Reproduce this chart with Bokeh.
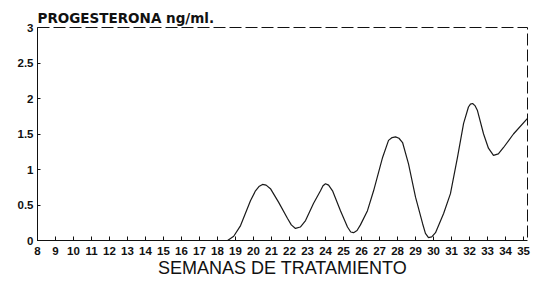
from bokeh.plotting import figure
from bokeh.models import Range1d, FixedTicker
from bokeh.embed import file_html
from bokeh.resources import INLINE

# Data
weeks = [8, 9, 10, 11, 12, 13, 14, 15, 16, 17, 18,
         18.56, 18.9, 19.28, 19.83, 20.11, 20.3, 20.5, 20.7, 20.94, 21.39,
         21.89, 22.1, 22.33, 22.6, 22.89, 23.33, 23.72, 23.86, 24.0, 24.17,
         24.39, 24.83, 25.22, 25.4, 25.56, 25.75, 25.94, 26.33, 26.67, 27.17,
         27.5, 27.7, 27.89, 28.08, 28.28, 28.61, 29.0, 29.39, 29.55, 29.72,
         29.9, 30.11, 30.56, 30.94, 31.33, 31.67, 31.94, 32.05, 32.17, 32.3,
         32.44, 32.78, 33.05, 33.33, 33.6, 33.89, 34.44, 35.22]
progesterone = [0, 0, 0, 0, 0, 0, 0, 0, 0, 0, 0,
                0, 0.06, 0.21, 0.56, 0.70, 0.76, 0.79, 0.78, 0.73, 0.54,
                0.31, 0.22, 0.17, 0.19, 0.28, 0.52, 0.70, 0.77, 0.80, 0.78,
                0.70, 0.42, 0.19, 0.12, 0.11, 0.14, 0.22, 0.42, 0.70, 1.17,
                1.41, 1.45, 1.46, 1.44, 1.38, 1.08, 0.61, 0.24, 0.10, 0.04,
                0.05, 0.11, 0.38, 0.66, 1.17, 1.65, 1.88, 1.92, 1.93, 1.90,
                1.83, 1.50, 1.30, 1.20, 1.22, 1.31, 1.50, 1.72]

x_ticks = list(range(8, 36))
x_tick_labels = {t: str(t) for t in x_ticks}
y_ticks = [0, 0.5, 1, 1.5, 2, 2.5, 3]
y_tick_labels = {0: "0", 0.5: "0.5", 1: "1", 1.5: "1.5", 2: "2", 2.5: "2.5", 3: "3"}

title_text = "PROGESTERONA ng/ml."
x_title = "SEMANAS DE TRATAMIENTO"

p = figure(width=538, height=285, output_backend="svg", toolbar_location=None,
           x_range=Range1d(8, 35.22), y_range=Range1d(0, 3),
           min_border_left=37, min_border_right=11, min_border_top=27,
           min_border_bottom=45)
p.background_fill_color = "white"
p.border_fill_color = "white"
p.grid.visible = False
p.outline_line_color = "#111111"
p.outline_line_width = 1
p.outline_line_dash = "12 4"

p.title.text = title_text
p.title.align = "left"
p.title.text_font = "DejaVu Sans"
p.title.text_font_size = "13.5px"
p.title.text_font_style = "bold"
p.title.text_color = "#111111"
p.title.standoff = 3
p.title.offset = 0

p.line(weeks, progesterone, line_color="#1a1a1a", line_width=1.2)

xa = p.xaxis[0]
xa.ticker = FixedTicker(ticks=x_ticks)
xa.major_label_overrides = x_tick_labels
xa.major_tick_in = 4
xa.major_tick_out = 0
xa.minor_tick_in = 0
xa.minor_tick_out = 0
xa.axis_line_color = "#111111"
xa.major_tick_line_color = "#111111"
xa.major_label_text_font = "Liberation Sans"
xa.major_label_text_font_size = "11.5px"
xa.major_label_text_font_style = "bold"
xa.major_label_text_color = "#111111"
xa.major_label_standoff = 6
xa.axis_label = x_title
xa.axis_label_text_font = "Liberation Sans"
xa.axis_label_text_font_size = "18px"
xa.axis_label_text_font_style = "normal"
xa.axis_label_text_color = "#111111"
xa.axis_label_standoff = 0

ya = p.yaxis[0]
ya.ticker = FixedTicker(ticks=y_ticks)
ya.major_label_overrides = y_tick_labels
ya.major_tick_in = 3
ya.major_tick_out = 0
ya.minor_tick_in = 0
ya.minor_tick_out = 0
ya.axis_line_color = "#111111"
ya.major_tick_line_color = "#111111"
ya.major_label_text_font = "Liberation Sans"
ya.major_label_text_font_size = "11.5px"
ya.major_label_text_font_style = "bold"
ya.major_label_text_color = "#111111"
ya.major_label_standoff = 4

open("out.html", "w").write(file_html(p, INLINE))
